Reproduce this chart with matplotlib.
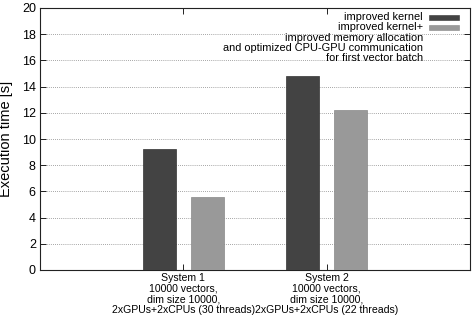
import matplotlib
matplotlib.use("Agg")
import matplotlib.pyplot as plt
from matplotlib.patches import Rectangle
import numpy as np

plt.rcParams['font.family'] = ['Liberation Sans', 'DejaVu Sans']

categories = ["System 1\n10000 vectors,\ndim size 10000,\n2xGPUs+2xCPUs (30 threads)",
              "System 2\n10000 vectors,\ndim size 10000,\n2xGPUs+2xCPUs (22 threads)"]
series_names = ["improved kernel", "improved kernel+",
                "improved memory allocation\nand optimized CPU-GPU communication\nfor first vector batch"]
improved_kernel = [9.25, 14.8]
improved_kernel_plus = [5.6, 12.25]
yticks = [0, 2, 4, 6, 8, 10, 12, 14, 16, 18, 20]

W, H = 472, 317
fig = plt.figure(figsize=(W / 100, H / 100), dpi=100)
ax = fig.add_axes([40/W, 1 - 270/H, 430/W, 262/H])

colors = ['#434343', '#999999', 'white']
edges = ['#333333', '#888888', 'white']

x = np.array([1, 2])
w = 0.23
off = 0.167
ax.bar(x - off, improved_kernel, w, color=colors[0], edgecolor=edges[0], linewidth=0.5, zorder=3)
ax.bar(x + off, improved_kernel_plus, w, color=colors[1], edgecolor=edges[1], linewidth=0.5, zorder=3)

ax.set_xlim(0, 3)
ax.set_ylim(0, 20)
ax.set_yticks(yticks)
ax.set_xticks(x)
ax.set_xticklabels(categories, fontsize=7.6, linespacing=1.1)
ax.tick_params(axis='y', labelsize=9, direction='in', length=4, width=0.6, right=True, pad=3)
ax.tick_params(axis='x', direction='in', length=4, width=0.6, top=True, pad=2)
ax.yaxis.grid(True, linestyle=(0, (1, 1.5)), color='#888888', linewidth=0.6, zorder=0)
ax.set_axisbelow(True)
for s in ax.spines.values():
    s.set_linewidth(0.8)
    s.set_color('#222222')
ax.set_ylabel("Execution time [s]", fontsize=10.5, labelpad=6)

# gnuplot-style key: right-justified text, sample to the right
text_right = 423
sample_x0, sample_x1 = 429, 459
centers = [17.5, 27.5, 48.0]
for name, cy, c, e in zip(series_names, centers, colors, edges):
    fig.text(text_right / W, 1 - cy / H, name, ha='right', va='center', fontsize=7.9,
             multialignment='right', linespacing=0.95)
    fig.patches.append(Rectangle((sample_x0 / W, 1 - (cy + 2.2) / H),
                                 (sample_x1 - sample_x0) / W, 4.4 / H,
                                 transform=fig.transFigure, facecolor=c, edgecolor=e,
                                 linewidth=0.4, zorder=5))

fig.savefig("out.png", dpi=100)
